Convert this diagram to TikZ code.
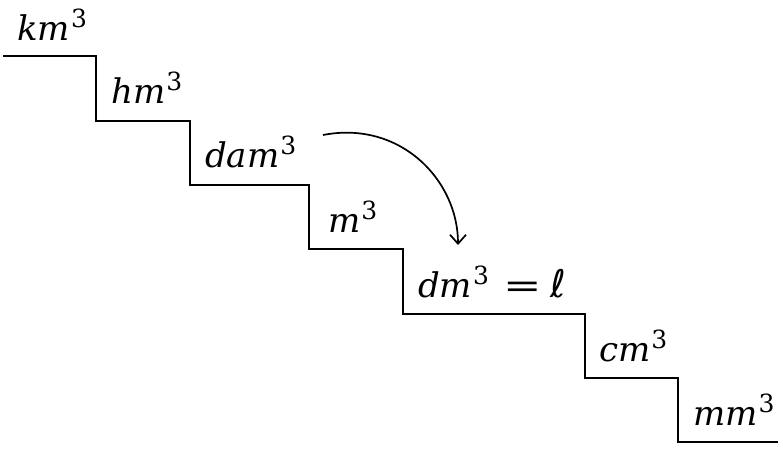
\documentclass[tikz,border=0pt]{standalone}
\usepackage{graphicx}
\usepackage{fontspec}
\setmainfont{DejaVu Serif}
\newfontfamily\ellfont{DejaVu Sans}
\usetikzlibrary{arrows.meta}
\newcommand{\cubeexp}{\raisebox{0.38em}{\fontsize{25}{25}\selectfont 3}}
\newcommand{\unitlbl}[1]{\textit{#1}\kern1pt\cubeexp}
\begin{document}
\begin{tikzpicture}[x=1pt,y=-1pt,
  stair/.style={line width=2.2pt, line join=miter},
  lbl/.style={anchor=base west, inner sep=0pt, font=\fontsize{34}{40}\selectfont},
  curvearrow/.style={line width=1.7pt, -{Straight Barb[length=9pt,width=16pt]}}]
\useasboundingbox (0,0) rectangle (783,450);
\draw[stair] (3,56) -- (96,56) -- (96,121) -- (190,121) -- (190,185) -- (309,185)
  -- (309,249) -- (403,249) -- (403,314) -- (585,314) -- (585,378) -- (678,378)
  -- (678,442) -- (778,442);
\node[lbl] (km) at (17,40) {\unitlbl{km}};
\node[lbl] (hm) at (111,103) {\unitlbl{hm}};
\node[lbl] (dam) at (205,167) {\unitlbl{dam}};
\node[lbl] (m) at (328,232) {\unitlbl{m}};
\node[lbl] (dm) at (418,297) {\unitlbl{dm}\hspace{14pt}\scalebox{1.35}[1]{=}\hspace{9pt}{\ellfont\itshape\fontsize{38}{40}\selectfont ℓ}};
\node[lbl] (cm) at (599,361) {\unitlbl{cm}};
\node[lbl] (mm) at (693,425) {\unitlbl{mm}};
\coordinate (arrstart) at (323,135);
\coordinate (arrend) at (458,245);
\draw[curvearrow] (arrstart) .. controls (400,120) and (458,180) .. (arrend);
\end{tikzpicture}
\end{document}
